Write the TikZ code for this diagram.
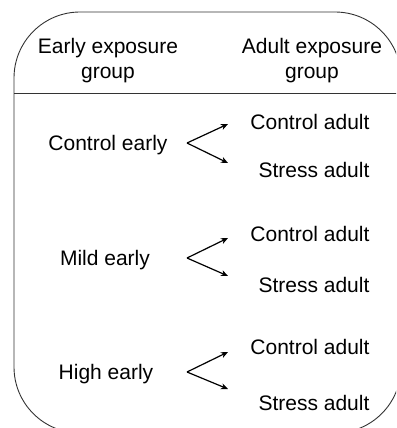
\documentclass[tikz,border=0pt]{standalone}
\usepackage{fontspec}
\setmainfont{Liberation Sans}
\usetikzlibrary{arrows.meta}

\begin{document}
\begin{tikzpicture}[x=1pt,y=-1pt,
    lbl/.style={font=\fontsize{21}{25}\selectfont, inner sep=0pt, align=center},
    frame/.style={line width=0.9pt, draw=black!80},
    link/.style={line width=1.2pt, -{Stealth[length=7pt,width=6pt,inset=2pt]}}]
    \useasboundingbox (0,0) rectangle (396,428);
    \clip (0,0) rectangle (396,428);

    \draw[frame] (14,365) -- (14,78) arc[start angle=180, end angle=270, radius=66]
        -- (335,12) arc[start angle=270, end angle=360, radius=66]
        -- (401,367) arc[start angle=0, end angle=90, radius=66]
        -- (80,433) arc[start angle=90, end angle=180, radius=66] -- cycle;
    \draw[frame] (14,93) -- (401,93);

    \node[lbl] (hearly) at (108,61) {Early exposure\\group};
    \node[lbl] (hadult) at (312,61) {Adult exposure\\group};

    \node[lbl] (ce) at (108,145) {Control early};
    \node[lbl] (ca1) at (310,122) {Control adult};
    \node[lbl] (sa1) at (314,170) {Stress adult};

    \node[lbl] (me) at (105,260) {Mild early};
    \node[lbl] (ca2) at (310,234) {Control adult};
    \node[lbl] (sa2) at (314,285) {Stress adult};

    \node[lbl] (he) at (106,374) {High early};
    \node[lbl] (ca3) at (310,347) {Control adult};
    \node[lbl] (sa3) at (314,403) {Stress adult};

    \coordinate (v1) at (187,143);
    \coordinate (u1) at (228,124);
    \coordinate (d1) at (228,163);
    \coordinate (v2) at (187,258);
    \coordinate (u2) at (228,238);
    \coordinate (d2) at (228,276);
    \coordinate (v3) at (187,372);
    \coordinate (u3) at (228,352);
    \coordinate (d3) at (228,389);

    \draw[link] (v1) -- (u1);
    \draw[link] (v1) -- (d1);
    \draw[link] (v2) -- (u2);
    \draw[link] (v2) -- (d2);
    \draw[link] (v3) -- (u3);
    \draw[link] (v3) -- (d3);
\end{tikzpicture}
\end{document}
